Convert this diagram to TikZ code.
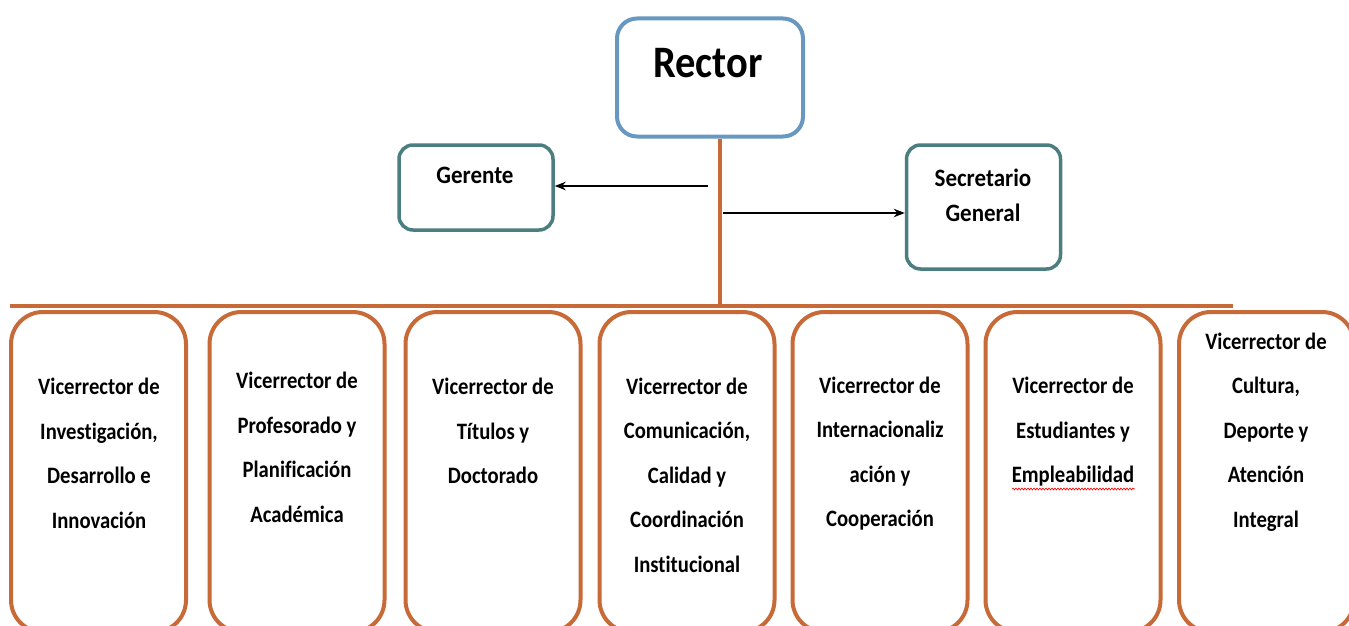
\documentclass[tikz,border=0pt]{standalone}
\usepackage{fontspec}
\setmainfont{Carlito}[Ligatures=NoCommon]
\newfontfamily\vfont{Carlito}[FakeStretch=0.88, Ligatures=NoCommon]
\newfontfamily\sfont{Carlito}[FakeStretch=0.92, Ligatures=NoCommon]
\newfontfamily\rfont{Carlito}[FakeStretch=0.9, Ligatures=NoCommon]
\usetikzlibrary{arrows.meta,decorations.pathmorphing}
\definecolor{orng}{RGB}{200,106,56}
\definecolor{rblue}{RGB}{104,152,192}
\definecolor{tealb}{RGB}{74,126,128}
\begin{document}
\begin{tikzpicture}[x=1pt,y=-1pt,
  vbox/.style={draw=orng, line width=4pt, rounded corners=32pt, minimum width=175pt, minimum height=320pt, inner sep=0pt},
  vtext/.style={font=\vfont\bfseries\fontsize{23.5}{44.5}\selectfont, align=center, inner sep=0pt},
  sbox/.style={draw=tealb, line width=3.5pt, rounded corners=14pt, inner sep=0pt},
  stext/.style={font=\sfont\bfseries\fontsize{25}{35}\selectfont, align=center, inner sep=0pt},
  orline/.style={draw=orng, line width=4pt},
  arr/.style={draw=black, line width=1.4pt, -{Stealth[length=11pt,width=8.5pt]}}]
\useasboundingbox (0,0) rectangle (1349,626);
\clip (0,0) rectangle (1349,626);
\fill[white] (0,0) rectangle (1349,626);
% top boxes
\node[draw=rblue, line width=4pt, rounded corners=20pt, minimum width=186pt, minimum height=118pt, inner sep=0pt] (rector) at (710,77.5) {};
\node[font=\rfont\bfseries\fontsize{45}{50}\selectfont, inner sep=0pt] (rectorT) at (708,63) {Rector};
\node[sbox, minimum width=154pt, minimum height=85pt] (ger) at (476,187.5) {};
\node[stext] (gerT) at (475,175) {Gerente};
\node[sbox, minimum width=154pt, minimum height=124pt] (sec) at (983.5,207) {};
\node[stext] (secT) at (983,195) {Secretario\\General};
% vicerrector boxes
\node[vbox] (v1) at (98.5,472) {};
\node[vbox] (v2) at (297,472) {};
\node[vbox] (v3) at (493,472) {};
\node[vbox] (v4) at (687,472) {};
\node[vbox] (v5) at (880,472) {};
\node[vbox] (v6) at (1073,472) {};
\node[vbox] (v7) at (1266.5,472) {};
\node[vtext] (t1) at (99,453.5) {Vicerrector de\\Investigación,\\Desarrollo e\\Innovación};
\node[vtext] (t2) at (297,447.5) {Vicerrector de\\Profesorado y\\Planificación\\Académica};
\node[vtext] (t3) at (493,431) {Vicerrector de\\Títulos y\\Doctorado};
\node[vtext] (t4) at (687,475) {Vicerrector de\\Comunicación,\\Calidad y\\Coordinación\\Institucional};
\node[vtext] (t5) at (880,453.5) {Vicerrector de\\Internacionaliz\\ación y\\Cooperación};
\node[vtext] (t6) at (1073,432) {Vicerrector de\\Estudiantes y\\Empleabilidad};
\node[vtext] (t7) at (1266,432) {Vicerrector de\\Cultura,\\Deporte y\\Atención\\Integral};
\draw[red, line width=0.6pt, decorate, decoration={snake, amplitude=1pt, segment length=3pt}] (1012,489) -- (1135,489);
% connectors
\coordinate (hj) at (720,306);
\coordinate (hl) at (10,306);
\coordinate (hr) at (1233,306);
\draw[orline] (hj |- rector.south) -- (hj);
\draw[orline] (hl) -- (hr);
\coordinate (g0) at (708,186);
\coordinate (s0) at (723,213);
\draw[arr] (g0) -- (ger.east |- g0);
\draw[arr] (s0) -- (sec.west |- s0);
\end{tikzpicture}
\end{document}
